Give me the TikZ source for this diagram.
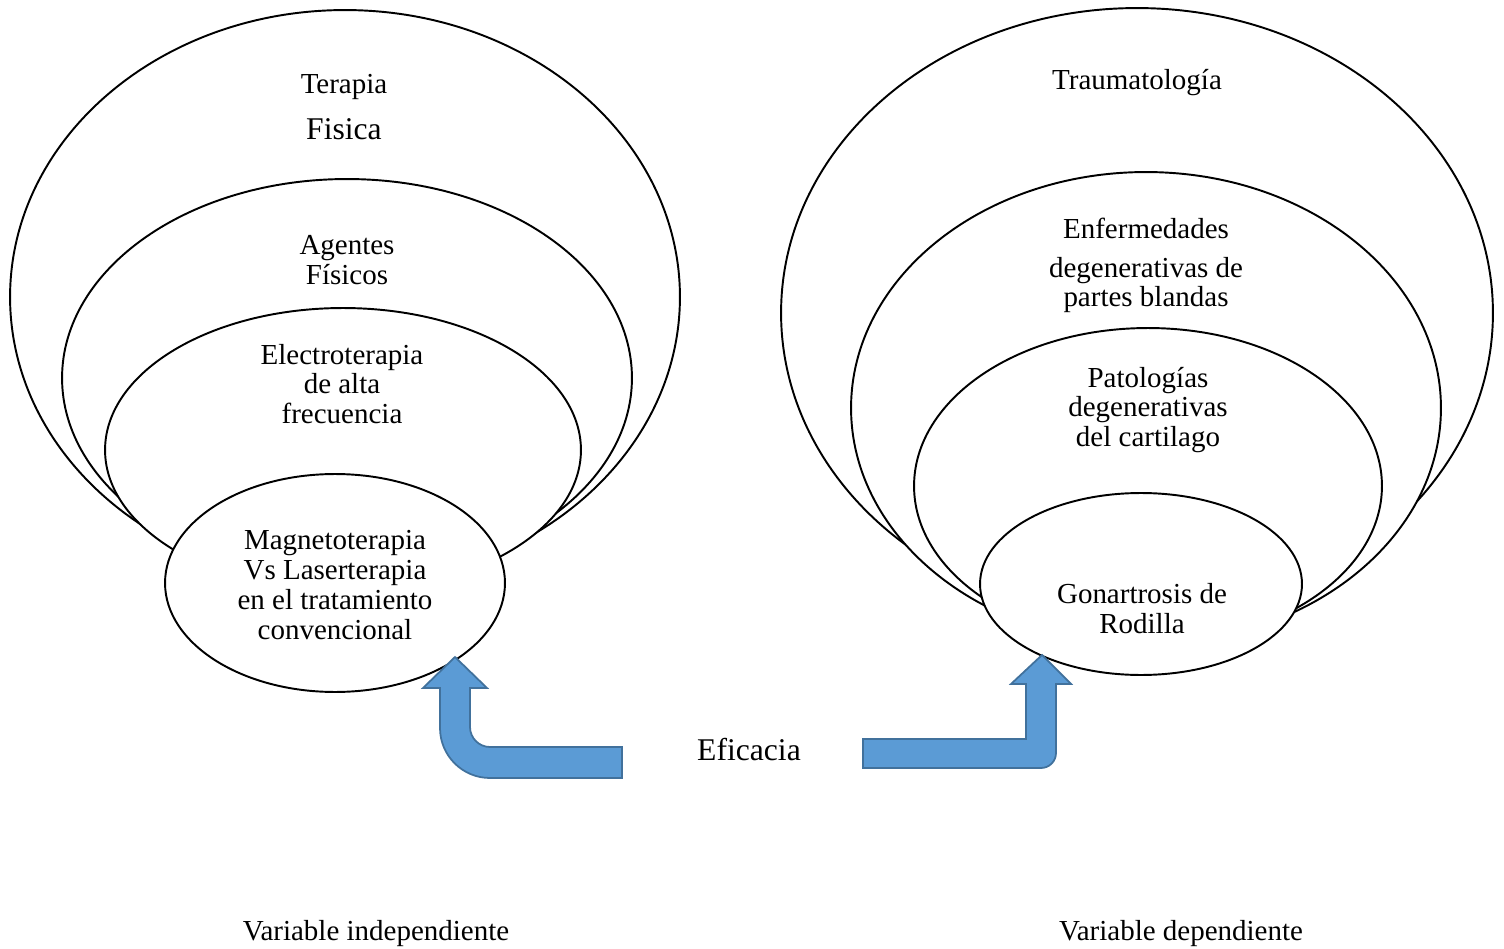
\documentclass[tikz,border=0pt]{standalone}
\usepackage{fontspec}
\setmainfont{Liberation Serif}
\usetikzlibrary{shapes.geometric}

\definecolor{arrowfill}{HTML}{5B9BD5}
\definecolor{arrowline}{HTML}{41719C}

\begin{document}
\begin{tikzpicture}[x=0.02cm,y=-0.02cm,
    ring/.style={draw,ellipse,fill=white,line width=1.1pt,inner sep=0pt},
    txt/.style={align=center,font=\fontsize{16.5}{17}\selectfont},
    bent/.style={fill=arrowfill,draw=arrowline,line width=1pt,line join=miter}]
    \useasboundingbox (0,0) rectangle (1504,949);

    % variable independiente
    \node[ring,minimum width=13.4cm,minimum height=11.48cm] (e_1) at (345,297) {};
    \node[ring,minimum width=11.4cm,minimum height=7.96cm] (e_2) at (347,378) {};
    \node[ring,minimum width=9.52cm,minimum height=5.68cm] (e_3) at (343,450) {};
    \node[ring,minimum width=6.8cm,minimum height=4.36cm] (e_4) at (335,583) {};

    \node[txt] (t_1) at (344,87) {Terapia};
    \node[txt,font=\fontsize{18}{19}\selectfont] (t_2) at (344,129) {Fisica};
    \node[txt] (t_3) at (347,260) {Agentes\\Físicos};
    \node[txt] (t_4) at (342,384) {Electroterapia\\de alta\\frecuencia};
    \node[txt] (t_5) at (335,585) {Magnetoterapia\\Vs Laserterapia\\en el tratamiento\\convencional};

    % variable dependiente
    \node[ring,minimum width=14.24cm,minimum height=12.2cm] (r_1) at (1137,313) {};
    \node[ring,minimum width=11.8cm,minimum height=9.44cm] (r_2) at (1146,408) {};
    \node[ring,minimum width=9.36cm,minimum height=6.32cm] (r_3) at (1148,486) {};
    \node[ring,minimum width=6.44cm,minimum height=3.64cm] (r_4) at (1141,584) {};

    \node[txt] (s_1) at (1137,83) {Traumatología};
    \node[txt] (s_2) at (1146,228) {Enfermedades};
    \node[txt] (s_3) at (1146,285) {degenerativas de\\partes blandas};
    \node[txt] (s_4) at (1148,410) {Patologías\\degenerativas\\del cartilago};
    \node[txt] (s_5) at (1142,609) {Gonartrosis de\\Rodilla};

    % eficacia
    \node[txt,font=\fontsize{18}{19}\selectfont] (ef) at (749,750) {Eficacia};
    \draw[bent] (622,747) -- (490,747) .. controls (479,747) and (470,738) .. (470,727)
        -- (470,688) -- (487,688) -- (455,657) -- (423,688) -- (440,688) -- (440,728)
        .. controls (440,755.6) and (462.4,778) .. (490,778) -- (622,778) -- cycle;
    \draw[bent] (863,739) -- (1026,739) -- (1026,684) -- (1011,684) -- (1042,655)
        -- (1071,684) -- (1056,684) -- (1056,753)
        .. controls (1056,761.3) and (1049.3,768) .. (1041,768) -- (863,768) -- cycle;

    \node[txt] (v_1) at (376,934) {Variable independiente};
    \node[txt] (v_2) at (1181,934) {Variable dependiente};
\end{tikzpicture}
\end{document}
